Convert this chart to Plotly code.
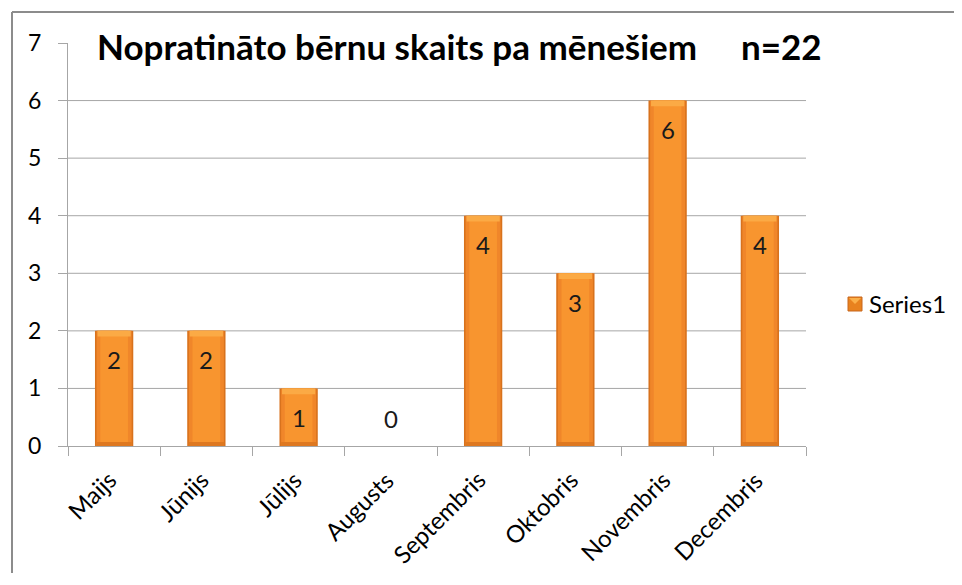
import plotly.graph_objects as go

months = ["Maijs", "Jūnijs", "Jūlijs", "Augusts", "Septembris", "Oktobris", "Novembris", "Decembris"]
counts = [2, 2, 1, 0, 4, 3, 6, 4]
y_ticks = [0, 1, 2, 3, 4, 5, 6, 7]
series_name = "Series1"
title_main = "Nopratināto bērnu skaits pa mēnešiem"
title_n = "n=22"

FONT = "Lato, 'Liberation Sans', sans-serif"

OFF = 8  # browser body margin
W, H = 962 - 2 * OFF, 585 - 2 * OFF - 4
# plot area in reference-window pixels
L, R, T, B = 68, 806, 43, 446

def px_x(p):
    return (p - L) / (R - L)

def px_y(p):
    return (B - p) / (B - T)

fig = go.Figure()
layers = [
    (0.415, "#D8721D"),
    (0.38, "#F0862A"),
    (0.30, "#F8952F"),
]
for w, c in layers:
    fig.add_trace(go.Bar(
        x=months, y=counts, width=w, name=series_name,
        marker=dict(color=c, line=dict(width=0)),
        showlegend=False, hoverinfo="skip",
    ))

# top bevel highlight and bottom shade
bevel = 0.1
fig.add_trace(go.Bar(
    x=months, y=[bevel if v > 0 else 0 for v in counts], base=[v - bevel for v in counts], width=0.36,
    marker=dict(color="#FBAA45", line=dict(width=0)), showlegend=False, hoverinfo="skip",
))
fig.add_trace(go.Bar(
    x=months, y=[min(v, 0.07) for v in counts], width=0.38,
    marker=dict(color="#DE7820", line=dict(width=0)), showlegend=False, hoverinfo="skip",
))

# data labels
for m, v in zip(months, counts):
    fig.add_annotation(x=m, y=v, xref="x", yref="y", text=str(v), showarrow=False,
                       yshift=-29 if v > 0 else 28,
                       font=dict(family=FONT, size=24, color="#1a1a1a"))

# category labels (rotated, anchored like the reference)
for m in months:
    fig.add_annotation(x=m, y=0, xref="x", yref="y", text=m, showarrow=False, textangle=-45,
                       xanchor="right", yanchor="top", xshift=11, yshift=-16,
                       font=dict(family=FONT, size=24, color="#000000"))

# title
fig.add_annotation(x=px_x(95), y=px_y(46), xref="paper", yref="paper", text="<b>%s</b>" % title_main,
                   showarrow=False, xanchor="left", yanchor="middle",
                   font=dict(family=FONT, size=35, color="#000000"))
fig.add_annotation(x=px_x(824), y=px_y(46), xref="paper", yref="paper", text="<b>%s</b>" % title_n,
                   showarrow=False, xanchor="right", yanchor="middle",
                   font=dict(family=FONT, size=35, color="#000000"))

# legend (drawn manually so it does not push the plot margins)
fig.add_annotation(x=px_x(867), y=px_y(303), xref="paper", yref="paper", text=series_name,
                   showarrow=False, xanchor="left", yanchor="middle",
                   font=dict(family=FONT, size=24, color="#000000"))

shapes = []
for v in y_ticks[1:-1]:
    shapes.append(dict(type="line", xref="paper", yref="y", x0=0, x1=1, y0=v, y1=v,
                       line=dict(color="#A6A6A6", width=1), layer="below"))
# legend key
shapes.append(dict(type="rect", xref="paper", yref="paper",
                   x0=px_x(848), x1=px_x(862), y0=px_y(311), y1=px_y(297),
                   line=dict(color="#C8661C", width=1), fillcolor="#E8821F"))
shapes.append(dict(type="path", xref="paper", yref="paper",
                   path="M %f %f L %f %f L %f %f Z" % (px_x(849), px_y(298), px_x(861), px_y(298),
                                                       px_x(855), px_y(304)),
                   line=dict(width=0), fillcolor="#FBB04A"))
# chart-area frame (left and top edges visible in the reference)
shapes.append(dict(type="line", xref="paper", yref="paper",
                   x0=px_x(12), x1=px_x(12), y0=px_y(640), y1=px_y(12),
                   line=dict(color="#8C8C8C", width=2)))
shapes.append(dict(type="line", xref="paper", yref="paper",
                   x0=px_x(12), x1=px_x(1000), y0=px_y(12), y1=px_y(12),
                   line=dict(color="#8C8C8C", width=2)))

fig.update_layout(
    width=W, height=H,
    margin=dict(l=L - OFF, r=W - (R - OFF), t=T - OFF, b=H - (B - OFF)),
    paper_bgcolor="white", plot_bgcolor="white",
    barmode="overlay",
    font=dict(family=FONT, size=22, color="#000000"),
    shapes=shapes,
    showlegend=False,
    xaxis=dict(type="category", range=[-0.5, len(months) - 0.5], autorange=False,
               showticklabels=False, tickson="boundaries", ticks="outside",
               ticklen=9, tickcolor="#A6A6A6", showline=True, linecolor="#A6A6A6",
               showgrid=False),
    yaxis=dict(range=[0, 7], autorange=False, tickvals=y_ticks, ticks="outside", ticklen=9,
               tickcolor="#A6A6A6", showline=True, linecolor="#A6A6A6", showgrid=False,
               zeroline=False, ticklabelstandoff=12,
               tickfont=dict(family=FONT, size=23, color="#000000")),
)

fig.write_html("out.html")
